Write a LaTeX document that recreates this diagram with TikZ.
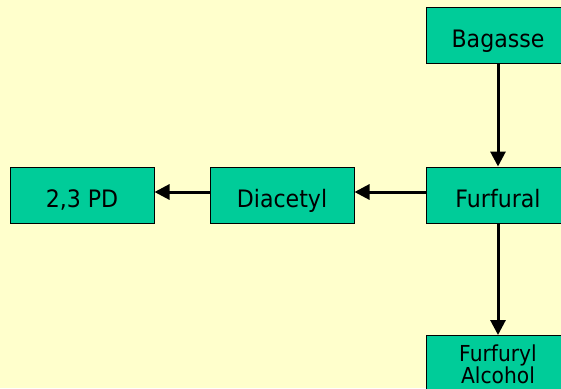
\documentclass[tikz,border=0pt]{standalone}
\usepackage{fontspec}
\setmainfont[FakeStretch=0.92]{DejaVu Sans}
\usetikzlibrary{arrows.meta}
\definecolor{bgc}{HTML}{FFFFCC}
\definecolor{boxc}{HTML}{00CC99}
\tikzset{
  stepbox/.style={draw=black, line width=1pt, fill=boxc, inner sep=0pt,
    minimum width=144pt, minimum height=56pt,
    font=\fontsize{24}{24}\selectfont, text=black, text height=30pt, text depth=6pt},
  flow/.style={line width=3pt, -{Triangle[width=15pt,length=15pt]}}
}
\begin{document}
\begin{tikzpicture}[x=1pt,y=-1pt]
\clip (0,0) rectangle (561,388);
\fill[bgc] (0,0) rectangle (561,388);
\node[stepbox] (bag) at (498,35) {Bagasse};
\node[stepbox] (fur) at (498,195) {Furfural};
\node[stepbox] (dia) at (282,195) {Diacetyl};
\node[stepbox] (pd) at (82,195) {2,3 PD};
\node[stepbox, minimum height=58pt, anchor=north, align=center, text height=, text depth=,
  font=\fontsize{22}{20}\selectfont] (alc) at (498,335) {Furfuryl\\Alcohol};
\draw[flow] (bag) -- (fur);
\draw[flow] ([yshift=3pt]fur.west) -- ([yshift=3pt]dia.east);
\draw[flow] ([yshift=3pt]dia.west) -- ([yshift=3pt]pd.east);
\draw[flow] (fur) -- (alc);
\end{tikzpicture}
\end{document}
